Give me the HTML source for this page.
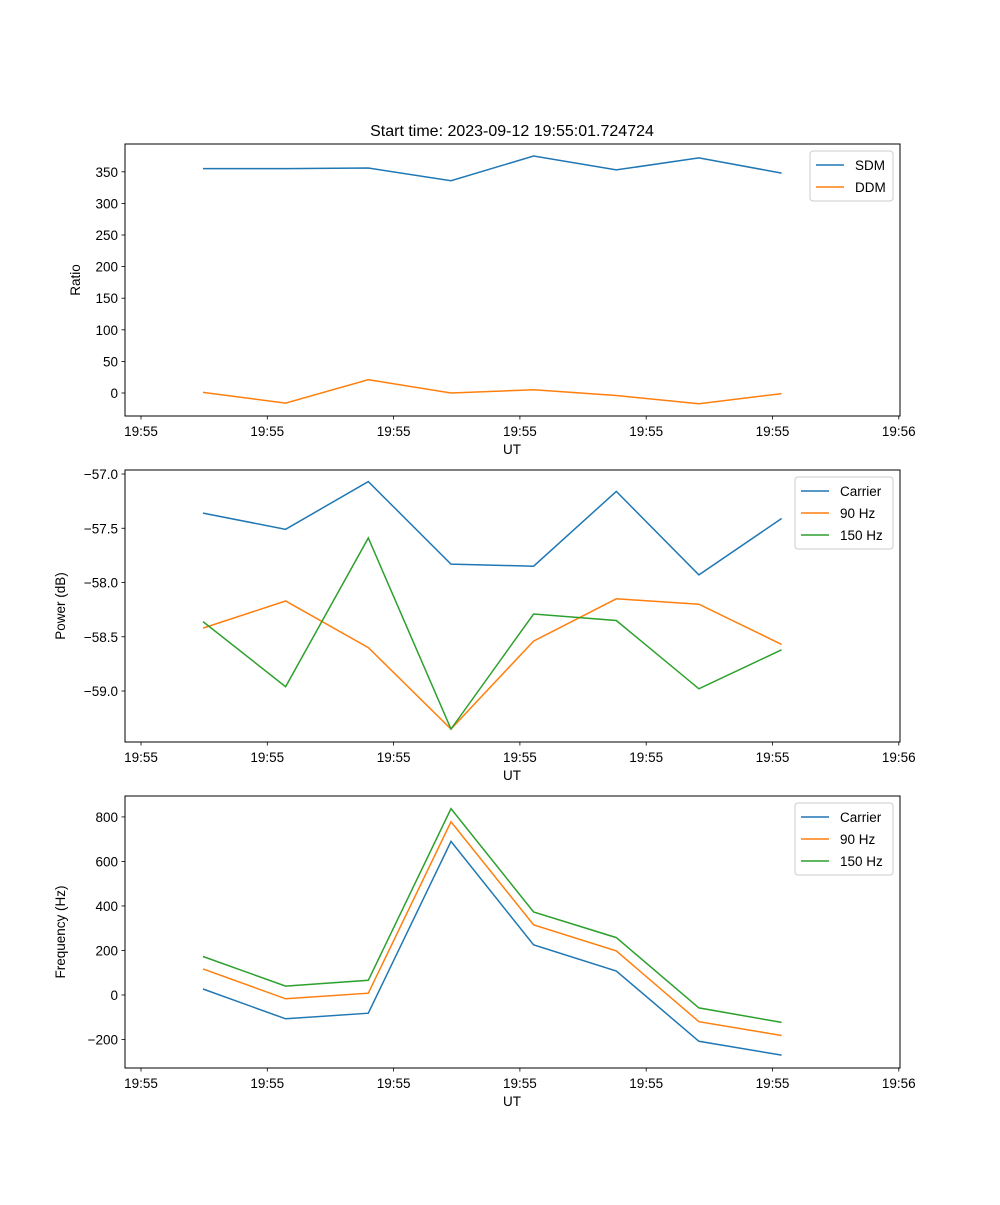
<!DOCTYPE html>
<html><head><meta charset="utf-8"><style>
body{margin:0;background:#fff;}
svg{font-family:"Liberation Sans","DejaVu Sans",sans-serif;}
</style></head><body>
<svg id="fig" width="1000" height="1200" viewBox="0 0 1000 1200" xmlns="http://www.w3.org/2000/svg">
<rect width="1000" height="1200" fill="#fff"/>
<text x="512" y="136" font-size="16" text-anchor="middle">Start time: 2023-09-12 19:55:01.724724</text>
</svg>
<script>
const xTickLabels = ["19:55","19:55","19:55","19:55","19:55","19:55","19:56"];
const sdm = [355,355,356,336,375,353,372,348];
const ddm = [1,-16,21,0,5,-4,-17,-1];
const pwrCarrier = [-57.36,-57.51,-57.07,-57.83,-57.85,-57.16,-57.93,-57.41];
const pwr90 = [-58.42,-58.17,-58.60,-59.35,-58.54,-58.15,-58.20,-58.57];
const pwr150 = [-58.36,-58.96,-57.59,-59.35,-58.29,-58.35,-58.98,-58.62];
const frqCarrier = [27,-107,-82,690,225,108,-208,-270];
const frq90 = [117,-17,8,778,315,198,-120,-182];
const frq150 = [173,40,66,837,373,258,-58,-123];
const ratioTicks = [0,50,100,150,200,250,300,350];
const powerTicks = [-59.0,-58.5,-58.0,-57.5,-57.0];
const freqTicks = [-200,0,200,400,600,800];

const NS="http://www.w3.org/2000/svg";
const svg=document.getElementById('fig');
const C=["#1f77b4","#ff7f0e","#2ca02c"];
function mk(tag,attrs,parent){const e=document.createElementNS(NS,tag);for(const k in attrs)e.setAttribute(k,attrs[k]);(parent||svg).appendChild(e);return e;}
const L=125,R=900;
function xs(i){return 203+i*82.65;}
function xTickPos(j){return 141+j*126.3;}

function panel(name,top,bottom,ymin,ymax,ticks,fmt,ylabel,series,labels,legendW){
  const g=mk('g',{});
  
  
  const ys=v=>bottom-(v-ymin)/(ymax-ymin)*(bottom-top);
  // lines
  series.forEach((s,k)=>{
    const p=mk('polyline',{points:s.map((v,i)=>xs(i).toFixed(1)+','+ys(v).toFixed(1)).join(' '),fill:'none',stroke:C[k],'stroke-width':1.5},g);
    
    
  });
  const fr=mk('rect',{x:L,y:top,width:R-L,height:bottom-top,fill:'none',stroke:'#000','stroke-width':1},g);
  
  
  ticks.forEach(t=>{
    const y=ys(t);
    mk('line',{x1:L-3.5,x2:L,y1:y,y2:y,stroke:'#000','stroke-width':0.8},g);
    const tx=mk('text',{x:L-7,y:y+5,'font-size':13.5,'text-anchor':'end'},g);
    tx.textContent=fmt(t);
    
    
  });
  xTickLabels.forEach((lab,j)=>{
    const x=xTickPos(j);
    mk('line',{x1:x,x2:x,y1:bottom,y2:bottom+3.5,stroke:'#000','stroke-width':0.8},g);
    const tx=mk('text',{x:x,y:bottom+20,'font-size':13.5,'text-anchor':'middle'},g);
    tx.textContent=lab;
    
    
  });
  const xl=mk('text',{x:512,y:bottom+38,'font-size':13.5,'text-anchor':'middle'},g);
  xl.textContent='UT';
  
  
  const ylx=name==='ratio'?80:65;
  const yl=mk('text',{x:ylx,y:(top+bottom)/2,'font-size':13.5,'text-anchor':'middle',transform:`rotate(-90 ${ylx} ${(top+bottom)/2})`},g);
  yl.textContent=ylabel;
  
  
  // legend
  const lx=893-legendW, ly=top+7, lh=labels.length*22+6;
  const lg=mk('g',{},g);
  
  
  mk('rect',{x:lx,y:ly,width:legendW,height:lh,rx:3,fill:'#fff','fill-opacity':0.8,stroke:'#ccc','stroke-width':1},lg);
  labels.forEach((lab,k)=>{
    const yy=ly+14+k*22;
    mk('line',{x1:lx+6,x2:lx+34,y1:yy,y2:yy,stroke:C[k],'stroke-width':1.5},lg);
    const t=mk('text',{x:lx+45,y:yy+5,'font-size':13.5},lg);
    t.textContent=lab;
    
    
  });
}
panel('ratio',144,416,-36.4,394,ratioTicks,t=>String(t).replace('-','\u2212'),'Ratio',[sdm,ddm],['SDM','DDM'],83);
panel('power',470,742,-59.47,-56.963,powerTicks,t=>t.toFixed(1).replace('-','\u2212'),'Power (dB)',[pwrCarrier,pwr90,pwr150],['Carrier','90 Hz','150 Hz'],98);
panel('frequency',796,1068,-328,894,freqTicks,t=>String(t).replace('-','\u2212'),'Frequency (Hz)',[frqCarrier,frq90,frq150],['Carrier','90 Hz','150 Hz'],98);
</script>
</body></html>
